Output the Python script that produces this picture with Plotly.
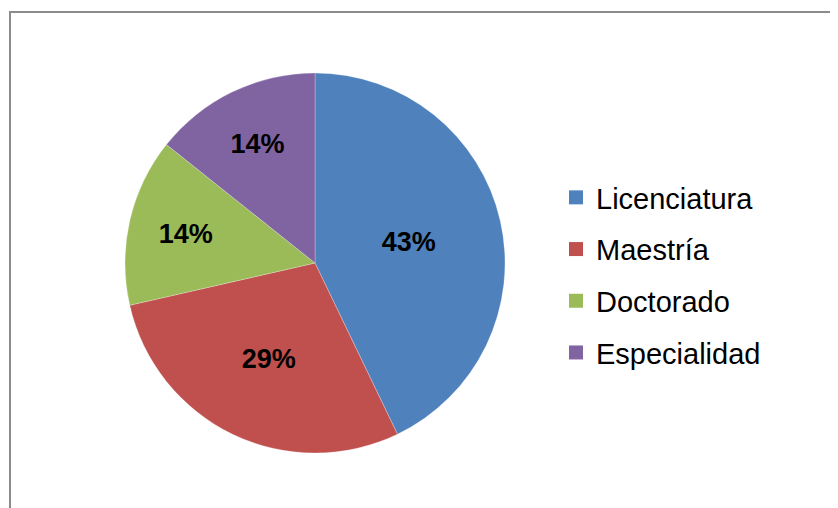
import plotly.graph_objects as go

categories = ["Licenciatura", "Maestría", "Doctorado", "Especialidad"]
values = [3, 2, 1, 1]
colors = ["#4F81BD", "#C0504D", "#9BBB59", "#8064A2"]

OFF = 8  # page body margin
W, H = 838 - OFF, 508 - OFF
FONT = "Liberation Sans, Arial, sans-serif"


def px(x):
    return (x - OFF) / W


def py(y):
    return 1 - (y - OFF) / H


fig = go.Figure()
fig.add_trace(go.Pie(
    labels=categories, values=values, sort=False, direction="clockwise", rotation=0,
    marker=dict(colors=colors, line=dict(color="rgba(255,255,255,0.5)", width=0.5)),
    texttemplate="<b>%{percent:.0%}</b>", textposition="inside",
    insidetextorientation="horizontal",
    textfont=dict(family=FONT, size=27, color="black"),
    showlegend=False, hoverinfo="label+percent",
    domain=dict(x=[px(125), px(505)], y=[py(453), py(73)]),
))
for i, (c, col) in enumerate(zip(categories, colors)):
    fig.add_trace(go.Scatter(
        x=[None], y=[None], mode="markers", name=c, legendgroup=f"g{i}",
        marker=dict(symbol="square", size=14, color=col),
        showlegend=True,
    ))

fig.update_layout(
    width=W, height=H, margin=dict(l=0, r=0, t=0, b=0),
    paper_bgcolor="white", plot_bgcolor="white",
    uniformtext=dict(minsize=27, mode="show"),
    xaxis=dict(visible=False), yaxis=dict(visible=False),
    legend=dict(x=px(556), xanchor="left", y=py(275), yanchor="middle",
                font=dict(family=FONT, size=29, color="black"),
                tracegroupgap=11, traceorder="grouped", bgcolor="rgba(0,0,0,0)"),
    shapes=[dict(type="rect", xref="paper", yref="paper",
                 x0=px(10), x1=1.05, y0=-0.05, y1=py(12),
                 line=dict(color="#8C8C8C", width=2))],
)
fig.write_html("out.html")
